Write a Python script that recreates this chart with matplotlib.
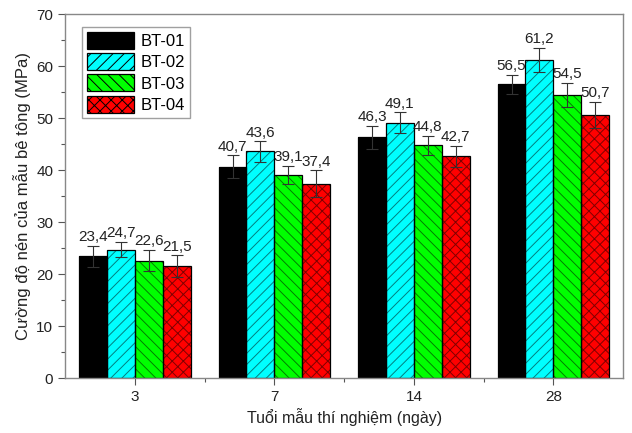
import matplotlib
matplotlib.use("Agg")
import matplotlib.pyplot as plt
import numpy as np
from matplotlib.ticker import MultipleLocator, FixedLocator

plt.rcParams["font.family"] = ["Liberation Sans", "DejaVu Sans"]
plt.rcParams["hatch.linewidth"] = 0.7

ages = ["3", "7", "14", "28"]
series = ["BT-01", "BT-02", "BT-03", "BT-04"]
values = {
    "BT-01": [23.4, 40.7, 46.3, 56.5],
    "BT-02": [24.7, 43.6, 49.1, 61.2],
    "BT-03": [22.6, 39.1, 44.8, 54.5],
    "BT-04": [21.5, 37.4, 42.7, 50.7],
}
errors = {
    "BT-01": [2.1, 2.2, 2.2, 1.9],
    "BT-02": [1.5, 2.0, 2.0, 2.4],
    "BT-03": [2.1, 1.7, 1.8, 2.3],
    "BT-04": [2.1, 2.6, 2.0, 2.5],
}
colors = ["#000000", "#00ffff", "#00ff00", "#ff0000"]
hatches = ["", "///", "\\\\\\", "xxx"]

fig = plt.figure(figsize=(6.32, 4.33), dpi=100)
ax = fig.add_axes([0.103, 0.127, 0.883, 0.84])

x = np.arange(len(ages))
w = 0.2
for i, s in enumerate(series):
    pos = x + (i - 1.5) * w
    # fill, then semi-dark hatch overlay, then black outline
    ax.bar(pos, values[s], w, color=colors[i], linewidth=0, zorder=2)
    ax.bar(pos, values[s], w, facecolor="none", edgecolor=(0, 0, 0, 0.5),
           linewidth=0, hatch=hatches[i], zorder=2.1)
    ax.bar(pos, values[s], w, facecolor="none", edgecolor="black",
           linewidth=0.9, zorder=2.2)
    ax.errorbar(pos, values[s], yerr=errors[s], fmt="none", ecolor="#333333",
                elinewidth=0.8, capsize=4, capthick=0.8, zorder=3)
    for p, v, e in zip(pos, values[s], errors[s]):
        ax.text(p, v + e + 0.3, f"{v:.1f}".replace(".", ","), ha="center",
                va="bottom", fontsize=11, color="#222222", zorder=4)

# legend proxies
for i, s in enumerate(series):
    ax.bar([np.nan], [np.nan], color=colors[i], edgecolor="black",
           linewidth=0.9, hatch=hatches[i], label=s)

ax.set_xlim(-0.5, 3.5)
ax.set_ylim(0, 70)
ax.set_xticks(x)
ax.set_xticklabels(ages)
ax.xaxis.set_minor_locator(FixedLocator([0.5, 1.5, 2.5]))
ax.yaxis.set_major_locator(MultipleLocator(10))
ax.yaxis.set_minor_locator(MultipleLocator(5))
ax.tick_params(axis="both", which="major", direction="out", length=5,
               labelsize=11, color="#555555", labelcolor="#222222", width=0.8)
ax.tick_params(axis="both", which="minor", direction="out", length=3,
               color="#555555", width=0.8)
for sp in ax.spines.values():
    sp.set_color("#888888")
    sp.set_linewidth(1.0)

ax.set_xlabel("Tuổi mẫu thí nghiệm (ngày)", fontsize=11.5, labelpad=3,
              color="#222222")
ax.set_ylabel("Cường độ nén của mẫu bê tông (MPa)", fontsize=12, labelpad=4,
              color="#222222")

leg = ax.legend(loc="upper left", bbox_to_anchor=(0.025, 0.975), fontsize=12,
                fancybox=False, edgecolor="#888888", handlelength=2.8,
                handleheight=1.2, handletextpad=0.4, borderpad=0.3,
                labelspacing=0.25, borderaxespad=0.2)
leg.get_frame().set_linewidth(1.0)

fig.savefig("out.png", dpi=100)
